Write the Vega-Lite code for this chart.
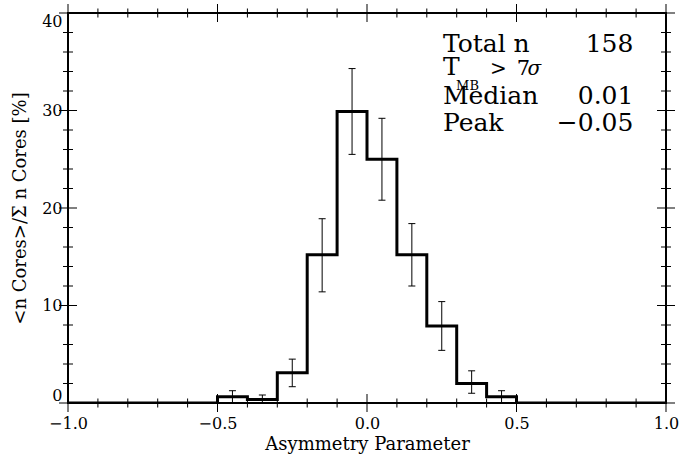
{
  "$schema": "https://vega.github.io/schema/vega-lite/v6.json",
  "width": 598,
  "height": 390,
  "autosize": "none",
  "padding": {"left": 68, "top": 13, "right": 14, "bottom": 51},
  "background": "white",
  "config": {
    "view": {"stroke": "black", "strokeWidth": 2},
    "axis": {
      "grid": false,
      "domain": false,
      "ticks": false,
      "labelColor": "black",
      "labelFont": "DejaVu Serif",
      "labelFontSize": 16,
      "titleFont": "DejaVu Serif",
      "titleFontSize": 18,
      "titleFontWeight": "normal",
      "titleColor": "black"
    },
    "text": {"font": "DejaVu Serif", "fontSize": 25, "align": "left", "baseline": "alphabetic", "color": "black"},
    "tick": {"color": "black", "thickness": 1, "opacity": 1, "clip": true}
  },
  "datasets": {
    "hist": [
      {"bin_start": -1.0, "center": -0.95, "pct": 0, "lo": null, "hi": null},
      {"bin_start": -0.9, "center": -0.85, "pct": 0, "lo": null, "hi": null},
      {"bin_start": -0.8, "center": -0.75, "pct": 0, "lo": null, "hi": null},
      {"bin_start": -0.7, "center": -0.65, "pct": 0, "lo": null, "hi": null},
      {"bin_start": -0.6, "center": -0.55, "pct": 0, "lo": null, "hi": null},
      {"bin_start": -0.5, "center": -0.45, "pct": 0.63, "lo": 0, "hi": 1.26},
      {"bin_start": -0.4, "center": -0.35, "pct": 0.35, "lo": 0, "hi": 0.82},
      {"bin_start": -0.3, "center": -0.25, "pct": 3.1, "lo": 1.67, "hi": 4.5},
      {"bin_start": -0.2, "center": -0.15, "pct": 15.2, "lo": 11.4, "hi": 18.9},
      {"bin_start": -0.1, "center": -0.05, "pct": 29.9, "lo": 25.5, "hi": 34.3},
      {"bin_start": 0.0, "center": 0.05, "pct": 25.0, "lo": 20.8, "hi": 29.2},
      {"bin_start": 0.1, "center": 0.15, "pct": 15.2, "lo": 12.0, "hi": 18.4},
      {"bin_start": 0.2, "center": 0.25, "pct": 7.9, "lo": 5.4, "hi": 10.4},
      {"bin_start": 0.3, "center": 0.35, "pct": 2.0, "lo": 1.0, "hi": 3.3},
      {"bin_start": 0.4, "center": 0.45, "pct": 0.63, "lo": 0, "hi": 1.26},
      {"bin_start": 0.5, "center": 0.55, "pct": 0, "lo": null, "hi": null},
      {"bin_start": 0.6, "center": 0.65, "pct": 0, "lo": null, "hi": null},
      {"bin_start": 0.7, "center": 0.75, "pct": 0, "lo": null, "hi": null},
      {"bin_start": 0.8, "center": 0.85, "pct": 0, "lo": null, "hi": null},
      {"bin_start": 0.9, "center": 0.95, "pct": 0, "lo": null, "hi": null},
      {"bin_start": 1.0, "center": null, "pct": 0, "lo": null, "hi": null}
    ],
    "xticks": [
      {"v": -1.0, "kind": "major"}, {"v": -0.9, "kind": "minor"}, {"v": -0.8, "kind": "minor"}, {"v": -0.7, "kind": "minor"}, {"v": -0.6, "kind": "minor"},
      {"v": -0.5, "kind": "major"}, {"v": -0.4, "kind": "minor"}, {"v": -0.3, "kind": "minor"}, {"v": -0.2, "kind": "minor"}, {"v": -0.1, "kind": "minor"},
      {"v": 0.0, "kind": "major"}, {"v": 0.1, "kind": "minor"}, {"v": 0.2, "kind": "minor"}, {"v": 0.3, "kind": "minor"}, {"v": 0.4, "kind": "minor"},
      {"v": 0.5, "kind": "major"}, {"v": 0.6, "kind": "minor"}, {"v": 0.7, "kind": "minor"}, {"v": 0.8, "kind": "minor"}, {"v": 0.9, "kind": "minor"},
      {"v": 1.0, "kind": "major"}
    ],
    "yticks": [
      {"v": 0, "kind": "major"}, {"v": 2, "kind": "minor"}, {"v": 4, "kind": "minor"}, {"v": 6, "kind": "minor"}, {"v": 8, "kind": "minor"},
      {"v": 10, "kind": "major"}, {"v": 12, "kind": "minor"}, {"v": 14, "kind": "minor"}, {"v": 16, "kind": "minor"}, {"v": 18, "kind": "minor"},
      {"v": 20, "kind": "major"}, {"v": 22, "kind": "minor"}, {"v": 24, "kind": "minor"}, {"v": 26, "kind": "minor"}, {"v": 28, "kind": "minor"},
      {"v": 30, "kind": "major"}, {"v": 32, "kind": "minor"}, {"v": 34, "kind": "minor"}, {"v": 36, "kind": "minor"}, {"v": 38, "kind": "minor"},
      {"v": 40, "kind": "major"}
    ],
    "one": [{"k": 1}]
  },
  "layer": [
    {
      "data": {"name": "hist"},
      "mark": {"type": "line", "interpolate": "step-after", "color": "black", "strokeWidth": 3, "clip": true},
      "encoding": {
        "x": {
          "field": "bin_start", "type": "quantitative",
          "scale": {"domain": [-1, 1], "nice": false, "zero": false},
          "axis": {"orient": "bottom", "values": [-1, -0.5, 0, 0.5, 1], "format": ".1f", "labelPadding": 12, "title": "Asymmetry Parameter", "titlePadding": 4, "labelFlush": false}
        },
        "y": {
          "field": "pct", "type": "quantitative",
          "scale": {"domain": [0, 40], "nice": false},
          "axis": {"orient": "left", "values": [0, 10, 20, 30, 40], "format": "d", "labelPadding": 6, "labelFlush": true, "title": "<n Cores>/Σ n Cores [%]", "titlePadding": 12}
        }
      }
    },
    {
      "data": {"name": "xticks"},
      "transform": [{"filter": "datum.kind == 'major'"}],
      "layer": [
        {"mark": {"type": "tick", "orient": "vertical", "size": 18},
         "encoding": {"x": {"field": "v", "type": "quantitative"}, "y": {"datum": 0, "type": "quantitative"}}},
        {"mark": {"type": "tick", "orient": "vertical", "size": 18},
         "encoding": {"x": {"field": "v", "type": "quantitative"}, "y": {"datum": 40, "type": "quantitative"}}}
      ]
    },
    {
      "data": {"name": "xticks"},
      "transform": [{"filter": "datum.kind == 'minor'"}],
      "layer": [
        {"mark": {"type": "tick", "orient": "vertical", "size": 9},
         "encoding": {"x": {"field": "v", "type": "quantitative"}, "y": {"datum": 0, "type": "quantitative"}}},
        {"mark": {"type": "tick", "orient": "vertical", "size": 9},
         "encoding": {"x": {"field": "v", "type": "quantitative"}, "y": {"datum": 40, "type": "quantitative"}}}
      ]
    },
    {
      "data": {"name": "yticks"},
      "transform": [{"filter": "datum.kind == 'major'"}],
      "layer": [
        {"mark": {"type": "tick", "orient": "horizontal", "size": 18},
         "encoding": {"y": {"field": "v", "type": "quantitative"}, "x": {"datum": -1, "type": "quantitative"}}},
        {"mark": {"type": "tick", "orient": "horizontal", "size": 18},
         "encoding": {"y": {"field": "v", "type": "quantitative"}, "x": {"datum": 1, "type": "quantitative"}}}
      ]
    },
    {
      "data": {"name": "yticks"},
      "transform": [{"filter": "datum.kind == 'minor'"}],
      "layer": [
        {"mark": {"type": "tick", "orient": "horizontal", "size": 10},
         "encoding": {"y": {"field": "v", "type": "quantitative"}, "x": {"datum": -1, "type": "quantitative"}}},
        {"mark": {"type": "tick", "orient": "horizontal", "size": 10},
         "encoding": {"y": {"field": "v", "type": "quantitative"}, "x": {"datum": 1, "type": "quantitative"}}}
      ]
    },
    {
      "data": {"name": "hist"},
      "transform": [{"filter": "datum.hi != null"}],
      "layer": [
        {"mark": {"type": "rule", "color": "black", "strokeWidth": 1},
         "encoding": {"x": {"field": "center", "type": "quantitative"}, "y": {"field": "lo", "type": "quantitative"}, "y2": {"field": "hi"}}},
        {"mark": {"type": "point", "shape": "M-1,0L1,0", "size": 49, "filled": false, "stroke": "black", "strokeWidth": 1, "opacity": 1},
         "encoding": {"x": {"field": "center", "type": "quantitative"}, "y": {"field": "hi", "type": "quantitative"}}},
        {"transform": [{"filter": "datum.lo > 0"}],
         "mark": {"type": "point", "shape": "M-1,0L1,0", "size": 49, "filled": false, "stroke": "black", "strokeWidth": 1, "opacity": 1},
         "encoding": {"x": {"field": "center", "type": "quantitative"}, "y": {"field": "lo", "type": "quantitative"}}}
      ]
    },
    {
      "data": {"name": "one"},
      "layer": [
        {"mark": {"type": "text"},
         "encoding": {"x": {"datum": 0.254, "type": "quantitative"}, "y": {"datum": 36.0, "type": "quantitative"}, "text": {"value": "Total n"}}},
        {"mark": {"type": "text", "align": "right"},
         "encoding": {"x": {"datum": 0.891, "type": "quantitative"}, "y": {"datum": 36.0, "type": "quantitative"}, "text": {"value": "158"}}},
        {"mark": {"type": "text"},
         "encoding": {"x": {"datum": 0.254, "type": "quantitative"}, "y": {"datum": 33.6, "type": "quantitative"}, "text": {"value": "T"}}},
        {"mark": {"type": "text", "fontSize": 13},
         "encoding": {"x": {"datum": 0.298, "type": "quantitative"}, "y": {"datum": 32.1, "type": "quantitative"}, "text": {"value": "MB"}}},
        {"mark": {"type": "text", "fontSize": 20},
         "encoding": {"x": {"datum": 0.411, "type": "quantitative"}, "y": {"datum": 33.6, "type": "quantitative"}, "text": {"value": ">"}}},
        {"mark": {"type": "text", "fontSize": 21},
         "encoding": {"x": {"datum": 0.5007, "type": "quantitative"}, "y": {"datum": 33.6, "type": "quantitative"}, "text": {"value": "7"}}},
        {"mark": {"type": "text", "fontSize": 20, "fontStyle": "italic"},
         "encoding": {"x": {"datum": 0.537, "type": "quantitative"}, "y": {"datum": 33.6, "type": "quantitative"}, "text": {"value": "σ"}}},
        {"mark": {"type": "text"},
         "encoding": {"x": {"datum": 0.254, "type": "quantitative"}, "y": {"datum": 30.67, "type": "quantitative"}, "text": {"value": "Median"}}},
        {"mark": {"type": "text", "align": "right"},
         "encoding": {"x": {"datum": 0.891, "type": "quantitative"}, "y": {"datum": 30.67, "type": "quantitative"}, "text": {"value": "0.01"}}},
        {"mark": {"type": "text"},
         "encoding": {"x": {"datum": 0.254, "type": "quantitative"}, "y": {"datum": 27.85, "type": "quantitative"}, "text": {"value": "Peak"}}},
        {"mark": {"type": "text", "align": "right"},
         "encoding": {"x": {"datum": 0.891, "type": "quantitative"}, "y": {"datum": 27.85, "type": "quantitative"}, "text": {"value": "−0.05"}}}
      ]
    }
  ]
}
